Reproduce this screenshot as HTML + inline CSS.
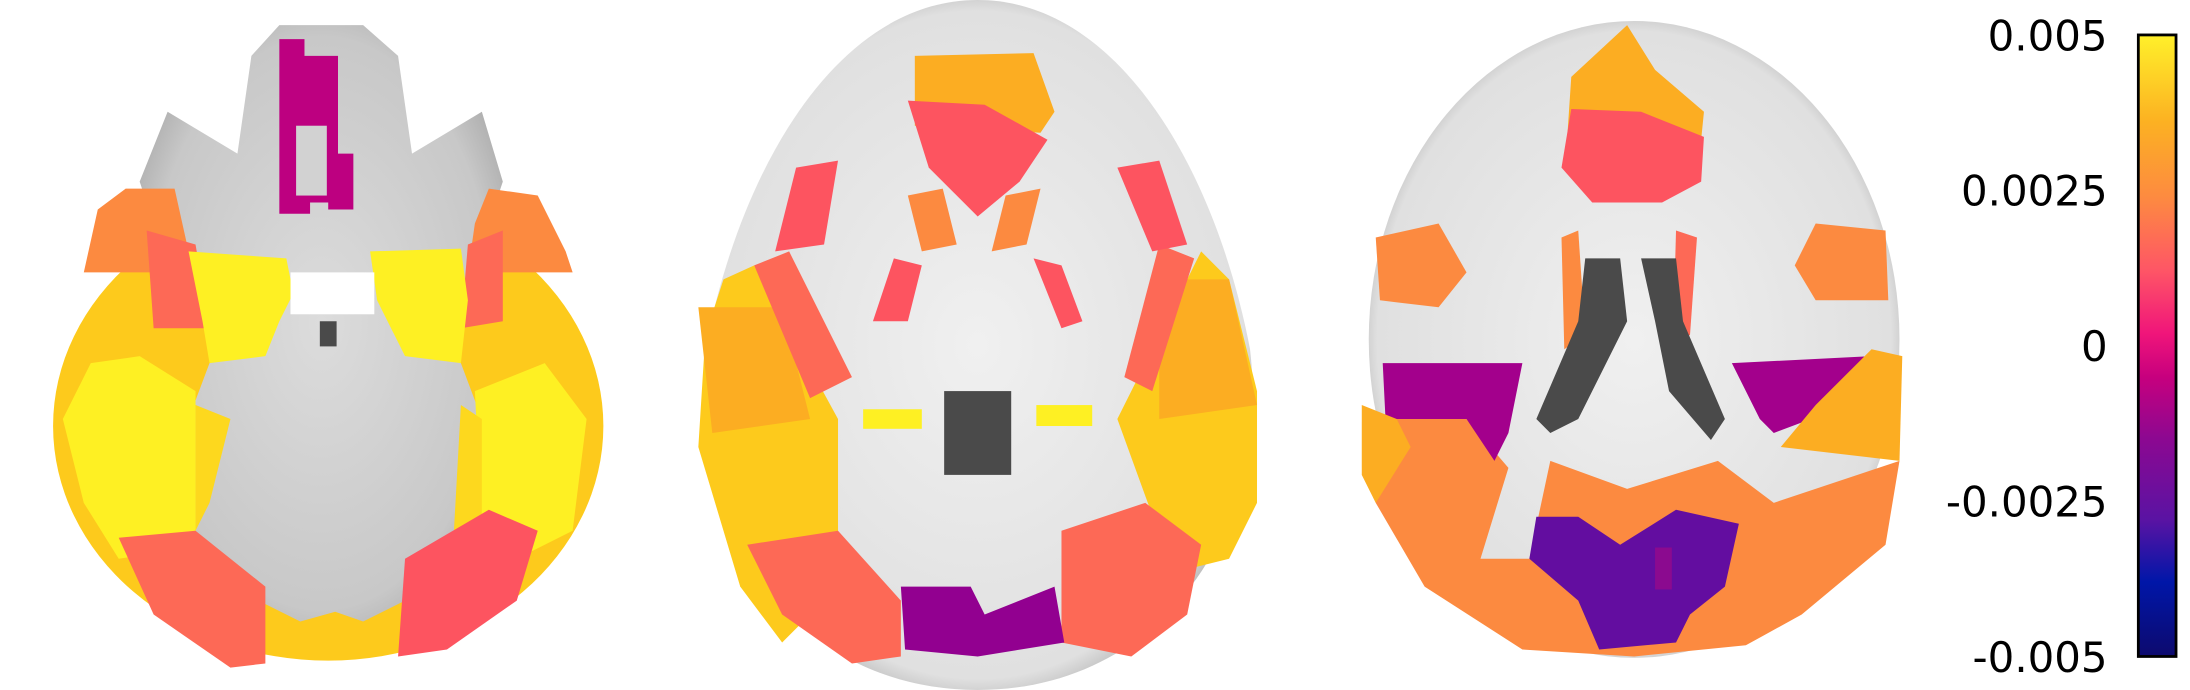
<!DOCTYPE html>
<html><head><meta charset="utf-8"><style>
html,body{margin:0;padding:0;background:#fff;width:2190px;height:690px;overflow:hidden}
svg{display:block}
text{font-family:"DejaVu Sans","Liberation Sans",sans-serif;font-size:30px;fill:#000}
</style></head><body>
<svg width="2190" height="690" viewBox="0 0 1568 494">
<defs>
<linearGradient id="cmap" x1="0" y1="1" x2="0" y2="0">
<stop offset="0" stop-color="#0d0a6e"/><stop offset="0.12" stop-color="#0016a8"/>
<stop offset="0.22" stop-color="#5a13a3"/><stop offset="0.35" stop-color="#8c0891"/>
<stop offset="0.45" stop-color="#c7007e"/><stop offset="0.52" stop-color="#f0157a"/>
<stop offset="0.62" stop-color="#fe5566"/><stop offset="0.74" stop-color="#fd8b40"/>
<stop offset="0.86" stop-color="#fcb122"/><stop offset="1" stop-color="#fff02a"/>
</linearGradient>
<radialGradient id="gray1" cx="0.5" cy="0.5" r="0.6"><stop offset="0" stop-color="#dcdcdc"/><stop offset="0.8" stop-color="#c8c8c8"/><stop offset="1" stop-color="#a8a8a8"/></radialGradient>
<radialGradient id="gray2" cx="0.5" cy="0.5" r="0.55"><stop offset="0" stop-color="#f0f0f0"/><stop offset="0.88" stop-color="#e0e0e0"/><stop offset="1" stop-color="#a9a9a9"/></radialGradient>
</defs>
<g id="regions"></g>
<g>
<rect x="1531" y="25" width="27" height="445" fill="url(#cmap)" stroke="#000" stroke-width="2"/>
<g id="ticks"></g>
</g>
<script>
var tickValues=["0.005","0.0025","0","-0.0025","-0.005"];
var tickFracs=[1,0.75,0.5,0.25,0];
var ns="http://www.w3.org/2000/svg";
function yScale(f){return 470-f*445;}
var tg=document.getElementById('ticks');
tickValues.forEach(function(t,i){
 var e=document.createElementNS(ns,'text');
 e.setAttribute('x',1509);e.setAttribute('y',yScale(tickFracs[i])+11);
 e.setAttribute('text-anchor','end');e.textContent=t;
 
 
 tg.appendChild(e);
});
var g=document.getElementById('regions');
function add(tag,attrs,name){var e=document.createElementNS(ns,tag);for(var k in attrs)e.setAttribute(k,attrs[k]);
 
 
 g.appendChild(e);return e;}
var C={yel:'#fef023',gold:'#fdca1c',gold2:'#fdd81e',org:'#fcad22',orange:'#fc8a40',salmon:'#fd6956',red:'#fd5460',mag:'#bd0080',pur:'#a3008c',pur2:'#920090',vio:'#630da0',dark:'#4a4a4a'};
// brain 1 (inferior)
add('ellipse',{cx:235,cy:305,rx:197,ry:168,fill:C.gold},'brain1-lobes-base');
add('path',{d:'M200 18 L260 18 L285 40 L295 110 L345 80 L360 130 L340 190 L310 230 L330 260 L345 300 L330 380 L310 420 L290 430 L260 445 L240 438 L215 445 L185 430 L160 420 L140 380 L135 300 L150 260 L170 230 L120 190 L100 130 L120 80 L170 110 L180 40 Z',fill:'url(#gray1)'},'brain1-anatomy');
add('path',{d:'M200 28 L218 28 L218 40 L242 40 L242 110 L253 110 L253 150 L235 150 L235 145 L222 145 L222 153 L200 153 Z',fill:C.mag},'brain1-region-frontal');
add('rect',{x:212,y:90,width:22,height:50,fill:'#d2d2d2'},'brain1-hole');
add('path',{d:'M90 135 L125 135 L135 180 L130 195 L60 195 L70 150 Z',fill:C.orange},'brain1-l-temporal-orange');
add('path',{d:'M350 135 L385 140 L405 180 L410 195 L335 195 L340 160 Z',fill:C.orange},'brain1-r-temporal-orange');
add('path',{d:'M45 300 L65 260 L100 255 L140 280 L140 380 L120 395 L85 400 L60 360 Z',fill:C.yel},'brain1-l-yellow');
add('path',{d:'M340 280 L390 260 L420 300 L410 380 L370 400 L345 380 Z',fill:C.yel},'brain1-r-yellow');
add('path',{d:'M105 165 L140 175 L150 235 L110 235 Z',fill:C.salmon},'brain1-l-salmon');
add('path',{d:'M335 175 L360 165 L360 230 L330 235 Z',fill:C.salmon},'brain1-r-salmon');
add('path',{d:'M140 290 L165 300 L150 360 L140 380 Z',fill:C.gold2},'brain1-l-gold-inner');
add('path',{d:'M330 290 L345 300 L345 390 L325 380 Z',fill:C.gold2},'brain1-r-gold-inner');
add('path',{d:'M135 180 L205 185 L210 210 L200 230 L190 255 L150 260 L145 230 Z',fill:C.yel},'brain1-l-amygdala');
add('path',{d:'M265 180 L330 178 L335 215 L330 260 L290 255 L270 215 Z',fill:C.yel},'brain1-r-amygdala');
add('rect',{x:208,y:195,width:60,height:30,fill:'#ffffff'},'brain1-white');
add('rect',{x:229,y:230,width:12,height:18,fill:C.dark},'brain1-dark');
add('path',{d:'M85 385 L140 380 L190 420 L190 475 L165 478 L110 440 Z',fill:C.salmon},'brain1-l-occipital');
add('path',{d:'M290 400 L350 365 L385 380 L370 430 L320 465 L285 470 Z',fill:C.red},'brain1-r-occipital');
// brain 2 (middle)
add('path',{d:'M700 0 C800 0 870 120 895 250 C910 380 830 494 700 494 C570 494 490 380 505 250 C530 120 600 0 700 0 Z',fill:'url(#gray2)'},'brain2-anatomy');
add('path',{d:'M518 200 L540 190 L600 300 L600 420 L560 460 L530 420 L500 320 L505 240 Z',fill:C.gold},'brain2-l-gold');
add('path',{d:'M860 180 L880 200 L900 280 L900 360 L880 400 L840 410 L800 300 Z',fill:C.gold},'brain2-r-gold');
add('path',{d:'M500 220 L560 220 L580 300 L510 310 Z',fill:C.org},'brain2-l-orange');
add('path',{d:'M830 200 L880 200 L900 290 L830 300 Z',fill:C.org},'brain2-r-orange');
add('path',{d:'M540 190 L565 180 L610 270 L580 285 Z',fill:C.salmon},'brain2-l-insula');
add('path',{d:'M830 175 L855 185 L825 280 L805 270 Z',fill:C.salmon},'brain2-r-insula');
add('path',{d:'M655 40 L740 38 L755 80 L745 95 L655 90 Z',fill:C.org},'brain2-frontal-gold');
add('path',{d:'M650 72 L705 75 L750 100 L730 130 L700 155 L665 120 Z',fill:C.red},'brain2-frontal-red');
add('path',{d:'M570 120 L600 115 L590 175 L555 180 Z',fill:C.red},'brain2-l-patch');
add('path',{d:'M800 120 L830 115 L850 175 L825 180 Z',fill:C.red},'brain2-r-patch');
add('path',{d:'M650 140 L675 135 L685 175 L660 180 Z',fill:C.orange},'brain2-l-caudate');
add('path',{d:'M720 140 L745 135 L735 175 L710 180 Z',fill:C.orange},'brain2-r-caudate');
add('path',{d:'M640 185 L660 190 L650 230 L625 230 Z',fill:C.red},'brain2-l-putamen');
add('path',{d:'M740 185 L760 190 L775 230 L760 235 Z',fill:C.red},'brain2-r-putamen');
add('rect',{x:676,y:280,width:48,height:60,fill:C.dark},'brain2-ventricle');
add('rect',{x:618,y:293,width:42,height:14,fill:C.yel},'brain2-l-yellow');
add('rect',{x:742,y:290,width:40,height:15,fill:C.yel},'brain2-r-yellow');
add('path',{d:'M535 390 L600 380 L645 430 L645 470 L610 475 L560 440 Z',fill:C.salmon},'brain2-l-occipital');
add('path',{d:'M760 380 L820 360 L860 390 L850 440 L810 470 L760 460 Z',fill:C.salmon},'brain2-r-occipital');
add('path',{d:'M645 420 L695 420 L705 440 L755 420 L762 460 L700 470 L648 465 Z',fill:C.pur2},'brain2-occipital-purple');
// brain 3 (superior)
add('ellipse',{cx:1170,cy:243,rx:190,ry:228,fill:'url(#gray2)'},'brain3-anatomy');
add('path',{d:'M1165 18 L1185 50 L1220 80 L1218 100 L1122 100 L1125 55 Z',fill:C.org},'brain3-frontal-gold');
add('path',{d:'M1125 78 L1175 80 L1220 98 L1218 130 L1190 145 L1140 145 L1118 120 Z',fill:C.red},'brain3-frontal-red');
add('path',{d:'M985 170 L1030 160 L1050 195 L1030 220 L988 215 Z',fill:C.orange},'brain3-l-orange');
add('path',{d:'M1300 160 L1350 165 L1352 215 L1300 215 L1285 190 Z',fill:C.orange},'brain3-r-orange');
add('path',{d:'M1118 170 L1130 165 L1135 240 L1120 250 Z',fill:C.orange},'brain3-l-caudate');
add('path',{d:'M1200 165 L1215 170 L1210 240 L1198 240 Z',fill:C.salmon},'brain3-r-caudate');
add('path',{d:'M1135 185 L1160 185 L1165 230 L1130 300 L1110 310 L1100 300 L1130 230 Z',fill:C.dark},'brain3-l-ventricle');
add('path',{d:'M1175 185 L1200 185 L1205 230 L1235 300 L1225 315 L1195 280 L1185 230 Z',fill:C.dark},'brain3-r-ventricle');
add('path',{d:'M980 300 L1050 300 L1080 335 L1060 400 L1095 400 L1110 330 L1165 350 L1230 330 L1270 360 L1360 330 L1350 390 L1290 440 L1250 462 L1170 470 L1090 465 L1020 420 L985 360 Z',fill:C.orange},'brain3-lower-orange');
add('path',{d:'M990 260 L1090 260 L1080 310 L1070 330 L1050 300 L992 300 Z',fill:C.pur},'brain3-l-purple');
add('path',{d:'M1240 260 L1340 255 L1338 280 L1310 295 L1270 310 L1260 300 Z',fill:C.pur},'brain3-r-purple');
add('path',{d:'M1340 250 L1362 255 L1360 330 L1275 320 L1300 290 Z',fill:C.org},'brain3-r-gold');
add('path',{d:'M975 290 L1000 300 L1010 320 L985 360 L975 340 Z',fill:C.org},'brain3-l-gold');
add('path',{d:'M1100 370 L1130 370 L1160 390 L1200 365 L1245 375 L1235 420 L1210 440 L1200 460 L1145 465 L1130 430 L1095 400 Z',fill:C.vio},'brain3-occipital-violet');
add('rect',{x:1185,y:392,width:12,height:30,fill:'#8b0a8f'},'brain3-violet-spot');
</script>
</svg>
</body></html>
